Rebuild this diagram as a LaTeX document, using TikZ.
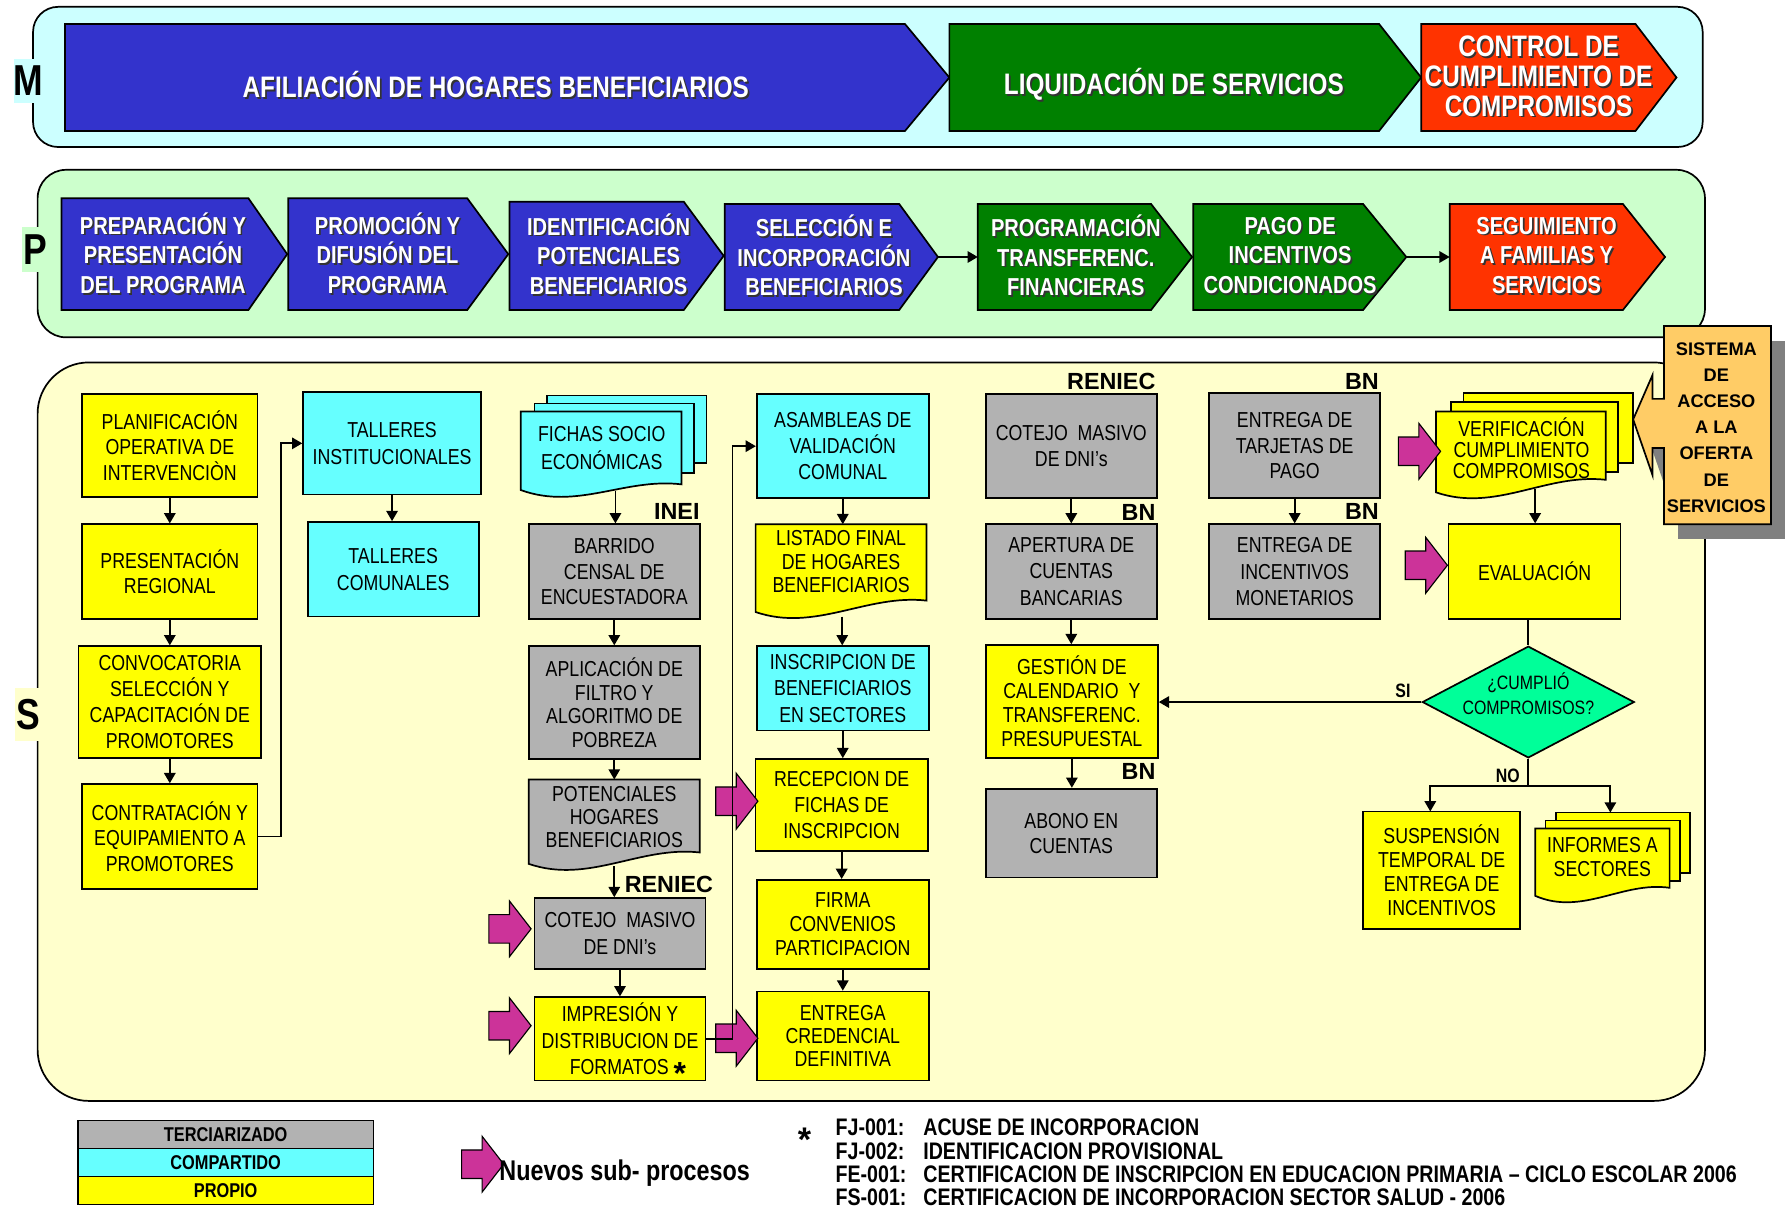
\documentclass[tikz,border=0pt]{standalone}
\usepackage{fontspec}
\setmainfont{Liberation Sans}[FakeStretch=0.82]
\newfontfamily\widefam{Liberation Sans}
\usetikzlibrary{arrows.meta,shapes.geometric,calc}
\definecolor{cblue}{HTML}{3333CC}
\definecolor{cgreen}{HTML}{008000}
\definecolor{cred}{HTML}{FF3300}
\definecolor{cyel}{HTML}{FFFF00}
\definecolor{ccyan}{HTML}{66FFFF}
\definecolor{cgray}{HTML}{B2B2B2}
\definecolor{cmag}{HTML}{CC3399}
\definecolor{cmint}{HTML}{00FF99}
\definecolor{corange}{HTML}{FFCC66}
\definecolor{cshadow}{HTML}{808080}
\definecolor{bandM}{HTML}{CCFFFF}
\definecolor{bandP}{HTML}{CCFFCC}
\definecolor{bandS}{HTML}{FFFFCC}
\newcommand\bxfont[1]{\fontsize{19}{#1}\selectfont}
\newcommand\bigstar{{\widefam\bfseries\fontsize{28}{20}\selectfont\smash{\raisebox{-9pt}{*}}}}
\tikzset{
  box/.style={draw, line width=1.5pt, inner sep=0pt, align=center, font=\bxfont{22.5}},
  txt/.style={inner sep=0pt, align=center, font=\bxfont{22.5}},
  shp/.style={draw, line width=1.5pt},
  arr/.style={line width=1.6pt, -{Triangle[length=9pt,width=10pt]}},
  ln/.style={line width=1.6pt},
  lbl/.style={inner sep=0pt, font=\widefam\bfseries\fontsize{20.5}{22}\selectfont},
  wt/.style={inner sep=0pt, align=center, text=white, font=\bfseries\fontsize{21.5}{26}\selectfont},
  wtm/.style={wt, font=\bfseries\fontsize{26}{26}\selectfont},
  letter/.style={inner sep=0pt, font=\bfseries\fontsize{38}{38}\selectfont},
  mag/.style={draw, line width=1pt, fill=cmag},
  leg/.style={draw, line width=1.2pt, inner sep=0pt, minimum width=259pt, minimum height=24.5pt, font=\bfseries\fontsize{17.5}{18}\selectfont},
  fn/.style={inner sep=0pt, anchor=base west, font=\bfseries\fontsize{21}{21}\selectfont},
}
% #1 spacing, #2 name, #3 x0, #4 y0, #5 x1, #6 y1, #7 fill, #8 text
\newcommand\rbox[8][22.5]{\node[box, fill=#7, font=\bxfont{#1}, minimum width={#5pt-#3pt}, minimum height={#6pt-#4pt}] (#2) at ({(#3+#5)/2},{(#4+#6)/2}) {#8};}
% #1 name, #2 x0, #3 notch, #4 tip, #5 y0, #6 y1, #7 fill
\newcommand\penta[7]{\filldraw[shp, fill=#7] (#2,#5) -- (#3,#5) -- (#4,{(#5+#6)/2}) -- (#3,#6) -- (#2,#6) -- cycle;
  \coordinate (#1w) at (#2,{(#5+#6)/2}); \coordinate (#1e) at (#4,{(#5+#6)/2});}
% #1 name, #2 style, #3 x, #4 y, #5 text
\newcommand\shtext[5]{\node[#2, text=black!80] (#1s) at ({#3+1.5},{#4+1.5}) {#5};
  \node[#2] (#1) at (#3,#4) {#5};}
% #1 fill, #2 x0, #3 ytop, #4 x1, #5 yL, #6 yR
\newcommand\docfront[6]{\filldraw[shp, fill=#1] (#2,#3) -- (#4,#3) -- (#4,#6) .. controls ({#4-0.35*(#4-#2)},{#6-6}) and ({#2+0.35*(#4-#2)},{#5+18}) .. (#2,#5) -- cycle;}
% #1 x0, #2 ytip
\newcommand\magarr[2]{\filldraw[mag] (#1,{#2-12.5}) -- ({#1+18},{#2-12.5}) -- ({#1+18},{#2-24.5}) -- ({#1+37},#2) -- ({#1+18},{#2+24.5}) -- ({#1+18},{#2+12.5}) -- (#1,{#2+12.5}) -- cycle;}
\begin{document}
\begin{tikzpicture}[x=1pt,y=-1pt]
\useasboundingbox (0,0) rectangle (1568,1060);
\fill[white] (0,0) rectangle (1568,1060);
% ---------- bands
\filldraw[shp, fill=bandM, rounded corners=22pt] (29,6) rectangle (1494,129);
\filldraw[shp, fill=bandP, rounded corners=25pt] (33,149) rectangle (1496,296);
\filldraw[shp, fill=bandS, rounded corners=45pt] (33,318) rectangle (1496,966);
\node[letter, fill=bandM, minimum width=26pt, minimum height=38pt] (lM) at (25,71) {M};
\node[letter, fill=bandP, minimum width=24pt, minimum height=40pt] (lP) at (31,219) {P};
\node[letter, fill=bandS, minimum width=24pt, minimum height=46pt] (lS) at (25,627) {S};
% ---------- M row
\penta{m1}{57}{794}{833}{21}{115}{cblue}
\penta{m2}{833}{1210}{1247}{21}{115}{cgreen}
\penta{m3}{1247}{1435}{1471}{21}{115}{cred}
\shtext{m1t}{wtm}{435}{74}{AFILIACIÓN DE HOGARES BENEFICIARIOS}
\shtext{m2t}{wtm}{1030}{74}{LIQUIDACIÓN DE SERVICIOS}
\shtext{m3t}{wtm}{1350}{67}{CONTROL DE\\CUMPLIMIENTO DE\\COMPROMISOS}
% ---------- P row
\penta{p1}{54}{218}{252}{174}{272}{cblue}
\penta{p2}{253}{410}{446}{174}{272}{cblue}
\penta{p3}{447}{600}{635}{177}{272}{cblue}
\penta{p4}{636}{789}{823}{179}{272}{cblue}
\penta{p5}{858}{1010}{1046}{179}{272}{cgreen}
\penta{p6}{1047}{1196}{1234}{179}{272}{cgreen}
\penta{p7}{1272}{1424}{1461}{179}{272}{cred}
\shtext{p1t}{wt}{143}{222}{PREPARACIÓN Y\\PRESENTACIÓN\\DEL PROGRAMA}
\shtext{p2t}{wt}{340}{222}{PROMOCIÓN Y\\DIFUSIÓN DEL\\PROGRAMA}
\shtext{p3t}{wt}{534}{223}{IDENTIFICACIÓN\\POTENCIALES\\BENEFICIARIOS}
\shtext{p4t}{wt}{723}{224}{SELECCIÓN E\\INCORPORACIÓN\\BENEFICIARIOS}
\shtext{p5t}{wt}{944}{224}{PROGRAMACIÓN\\TRANSFERENC.\\FINANCIERAS}
\shtext{p6t}{wt}{1132}{224}{PAGO DE\\INCENTIVOS\\CONDICIONADOS}
\shtext{p7t}{wt}{1357}{224}{SEGUIMIENTO\\A FAMILIAS Y\\SERVICIOS}
\draw[arr] (p4e) -- (p5w);
\draw[arr] (p6e) -- (p7w);
% ---------- S : column 1-2
\rbox{plan}{72}{346}{226}{436}{cyel}{PLANIFICACIÓN\\OPERATIVA DE\\INTERVENCIÒN}
\rbox{pres}{72}{460}{226}{543}{cyel}{PRESENTACIÓN\\REGIONAL}
\rbox[23]{conv}{69}{567}{229}{665}{cyel}{CONVOCATORIA\\SELECCIÓN Y\\CAPACITACIÓN DE\\PROMOTORES}
\rbox{cont}{72}{688}{226}{780}{cyel}{CONTRATACIÓN Y\\EQUIPAMIENTO A\\PROMOTORES}
\rbox[24]{tins}{266}{344}{422}{434}{ccyan}{TALLERES\\INSTITUCIONALES}
\rbox[24]{tcom}{270}{458}{420}{541}{ccyan}{TALLERES\\COMUNALES}
% ---------- column 3
\filldraw[shp, fill=ccyan] (480,347) rectangle (620,406);
\filldraw[shp, fill=ccyan] (469,354) rectangle (609,415);
\docfront{ccyan}{457}{361}{598}{430}{425}
\node[txt, font=\bxfont{25}] (fichas) at (528,393) {FICHAS SOCIO\\ECONÓMICAS};
\coordinate (fichB) at (540,431);
\rbox{barr}{464}{460}{614}{543}{cgray}{BARRIDO\\CENSAL DE\\ENCUESTADORA}
\rbox[20.7]{apli}{464}{567}{614}{666}{cgray}{APLICACIÓN DE\\FILTRO Y\\ALGORITMO DE\\POBREZA}
\docfront{cgray}{464}{684}{614}{758}{748}
\node[txt, font=\bxfont{20}] (pote) at (539,717) {POTENCIALES\\HOGARES\\BENEFICIARIOS};
\coordinate (poteT) at (539,684);
\coordinate (poteB) at (539,760);
\rbox[24]{cot1}{469}{788}{619}{850}{cgray}{COTEJO\ \ MASIVO\\DE DNI’s}
\rbox[23]{impr}{469}{875}{619}{948}{cyel}{IMPRESIÓN Y\\DISTRIBUCION DE\\\hspace*{14pt}FORMATOS \bigstar}
% ---------- column 4
\rbox{asam}{664}{346}{815}{437}{ccyan}{ASAMBLEAS DE\\VALIDACIÓN\\COMUNAL}
\docfront{cyel}{663}{460}{813}{537}{527}
\node[txt, font=\bxfont{20.5}] (list) at (738,493) {LISTADO FINAL\\DE HOGARES\\BENEFICIARIOS};
\coordinate (listT) at (739,460);
\coordinate (listB) at (739,541);
\rbox[23]{insc}{664}{567}{815}{641}{ccyan}{INSCRIPCION DE\\BENEFICIARIOS\\EN SECTORES}
\rbox[23]{rece}{663}{666}{814}{747}{cyel}{RECEPCION DE\\FICHAS DE\\INSCRIPCION}
\rbox[21]{firm}{664}{772}{815}{850}{cyel}{FIRMA\\CONVENIOS\\PARTICIPACION}
\rbox[20.5]{entr}{664}{870}{815}{948}{cyel}{ENTREGA\\CREDENCIAL\\DEFINITIVA}
% ---------- column 5-6
\rbox[23]{cot2}{865}{346}{1015}{437}{cgray}{COTEJO\ \ MASIVO\\DE DNI’s}
\rbox[23]{aper}{865}{460}{1015}{543}{cgray}{APERTURA DE\\CUENTAS\\BANCARIAS}
\rbox[21]{gest}{865}{566}{1016}{665}{cyel}{GESTIÓN DE\\CALENDARIO\ \ Y\\TRANSFERENC.\\PRESUPUESTAL}
\rbox[22]{abon}{865}{692}{1015}{770}{cgray}{ABONO EN\\CUENTAS}
\rbox{tarj}{1061}{345}{1211}{437}{cgray}{ENTREGA DE\\TARJETAS DE\\PAGO}
\rbox[23]{ince}{1061}{460}{1211}{543}{cgray}{ENTREGA DE\\INCENTIVOS\\MONETARIOS}
% ---------- column 7
\filldraw[shp, fill=cyel] (1284,345) rectangle (1433,406);
\filldraw[shp, fill=cyel] (1273,353) rectangle (1420,414);
\docfront{cyel}{1260}{361}{1409}{432}{421}
\node[txt, font=\bxfont{18.5}] (verif) at (1335,393) {VERIFICACIÓN\\CUMPLIMIENTO\\COMPROMISOS};
\coordinate (verB) at (1347,429);
\rbox{eval}{1271}{460}{1422}{543}{cyel}{EVALUACIÓN}
\node[diamond, draw, line width=1.5pt, fill=cmint, minimum width=186pt, minimum height=98pt, inner sep=0pt] (diam) at (1341,616) {};
\node[txt, font=\fontsize{17}{22}\selectfont] (diamt) at (1341,609) {¿CUMPLIÓ\\COMPROMISOS?};
\rbox[21]{susp}{1196}{712}{1334}{815}{cyel}{SUSPENSIÓN\\TEMPORAL DE\\ENTREGA DE\\INCENTIVOS}
\filldraw[shp, fill=cyel] (1365,713) rectangle (1483,766);
\filldraw[shp, fill=cyel] (1356,720) rectangle (1474,773);
\docfront{cyel}{1347}{727}{1465}{786}{779}
\node[txt, font=\bxfont{21}] (info) at (1406,752) {INFORMES A\\SECTORES};
\coordinate (suspIn) at (1255,712);
\coordinate (infoIn) at (1413,713);
\coordinate (nojoin) at (1341,690);
% ---------- magenta arrows
\magarr{429}{815}
\magarr{429}{900}
\magarr{628}{703}
\magarr{628}{911}
\magarr{1227}{396}
\magarr{1233}{496}
% ---------- connectors
\draw[arr] (plan.south) -- (pres.north);
\draw[arr] (pres.south) -- (conv.north);
\draw[arr] (conv.south) -- (cont.north);
\draw[arr] (cont.east) -- ++(20,0) |- (tins.west);
\draw[arr] (tins.south) -- (tins.south |- tcom.north);
\draw[arr] (fichB) -- (fichB |- barr.north);
\draw[arr] (barr.south) -- (apli.north);
\draw[arr] (apli.south) -- (poteT);
\draw[arr] (poteB) -- (poteB |- cot1.north);
\draw[arr] (cot1.south) -- (impr.north);
\draw[arr] (impr.east) -- ++(23,0) |- (asam.west);
\draw[arr] (asam.south) -- (asam.south |- listT);
\draw[arr] (listB) -- (listB |- insc.north);
\draw[arr] (insc.south) -- (insc.south |- rece.north);
\draw[arr] (rece.south) -- (rece.south |- firm.north);
\draw[arr] (firm.south) -- (entr.north);
\draw[arr] (cot2.south) -- (aper.north);
\draw[arr] (aper.south) -- (aper.south |- gest.north);
\draw[arr] (gest.south) -- (gest.south |- abon.north);
\draw[arr] (tarj.south) -- (ince.north);
\draw[arr] (verB) -- (verB |- eval.north);
\draw[ln] (diam.north) -- (diam.north |- eval.south);
\draw[arr] (diam.west) -- (diam.west -| gest.east);
\draw[ln] (diam.south) -- (nojoin);
\draw[arr] (nojoin) -| (suspIn);
\draw[arr] (nojoin) -| (infoIn);
% ---------- labels
\node[lbl, anchor=east] (inei) at (614,449) {INEI};
\node[lbl, anchor=west] (ren1) at (548,776) {RENIEC};
\node[lbl, anchor=east] (ren2) at (1014,335) {RENIEC};
\node[lbl, anchor=east] (bn1) at (1014,450) {BN};
\node[lbl, anchor=east] (bn2) at (1014,677) {BN};
\node[lbl, anchor=east] (bn3) at (1210,335) {BN};
\node[lbl, anchor=east] (bn4) at (1210,449) {BN};
\node[inner sep=0pt, font=\bfseries\fontsize{17}{17}\selectfont] (si) at (1231,606) {SI};
\node[inner sep=0pt, font=\bfseries\fontsize{17}{17}\selectfont] (no) at (1323,681) {NO};
% ---------- SISTEMA DE ACCESO
\fill[cshadow] (1472,299) rectangle (1566,473);
\fill[cshadow] (1472,363) -- (1462,363) -- (1462,342) -- (1445,381) -- (1462,430) -- (1462,406) -- (1472,406) -- cycle;
\filldraw[shp, fill=corange] (1460,286) -- (1554,286) -- (1554,460) -- (1460,460) -- (1460,393) -- (1450,393) -- (1450,417) -- (1433,368) -- (1450,329) -- (1450,350) -- (1460,350) -- cycle;
\node[inner sep=0pt, align=center, font=\widefam\bfseries\fontsize{16}{23}\selectfont] (sist) at (1506,375) {SISTEMA\\DE\\ACCESO\\A LA\\OFERTA\\DE\\SERVICIOS};
% ---------- legend
\node[leg, fill=cgray] (lg1) at (198,995.5) {TERCIARIZADO};
\node[leg, fill=ccyan] (lg2) at (198,1020) {COMPARTIDO};
\node[leg, fill=cyel] (lg3) at (198,1044.5) {PROPIO};
\magarr{405}{1021.5}
\node[inner sep=0pt, anchor=base west, font=\bfseries\fontsize{25}{25}\selectfont] (nuevos) at (438,1036) {Nuevos sub- procesos};
% ---------- footnotes
\node[inner sep=0pt, anchor=base, font=\widefam\bfseries\fontsize{30}{30}\selectfont] (ast) at (706,1010) {*};
\node[fn] (f1a) at (733,996) {FJ-001:};
\node[fn] (f1b) at (810,996) {ACUSE DE INCORPORACION};
\node[fn] (f2a) at (733,1017) {FJ-002:};
\node[fn] (f2b) at (810,1017) {IDENTIFICACION PROVISIONAL};
\node[fn] (f3a) at (733,1037.5) {FE-001:};
\node[fn] (f3b) at (810,1037.5) {CERTIFICACION DE INSCRIPCION EN EDUCACION PRIMARIA – CICLO ESCOLAR 2006};
\node[fn] (f4a) at (733,1057.5) {FS-001:};
\node[fn] (f4b) at (810,1057.5) {CERTIFICACION DE INCORPORACION SECTOR SALUD - 2006};
\end{tikzpicture}
\end{document}
